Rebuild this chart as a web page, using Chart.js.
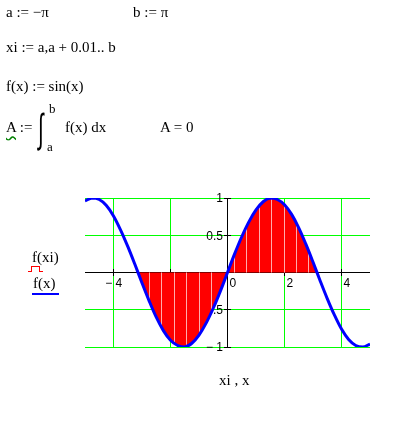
<!DOCTYPE html>
<html>
<head>
<meta charset="utf-8">
<script src="https://cdn.jsdelivr.net/npm/chart.js@4.4.0/dist/chart.umd.min.js"></script>
<style>
body { margin: 0; background: #fff; }
#wrap { position: relative; width: 398px; height: 437px; overflow: hidden; }
#c { position: absolute; left: 0; top: 0; }
.t { position: absolute; font-family: "Liberation Serif", "Times New Roman", serif; font-size: 15px; line-height: 15px; white-space: pre; color: #000; }
.int { position: absolute; font-family: "DejaVu Sans", sans-serif; font-size: 40px; line-height: 40px; transform: scaleX(0.5); transform-origin: left top; font-weight: 200; }
</style>
</head>
<body>
<div id="wrap">
  <canvas id="c" width="398" height="437"></canvas>

  <div class="t" style="left:6px; top:5px">a := −π</div>
  <div class="t" style="left:133px; top:5px">b := π</div>
  <div class="t" style="left:6px; top:40px">xi := a,a + 0.01.. b</div>
  <div class="t" style="left:6px; top:79px">f(x) := sin(x)</div>

  <div class="t" style="left:6px; top:120px"><span style="text-decoration: underline wavy #008000; text-underline-offset: 3px;">A</span> :=</div>
  <div class="int" style="left:38px; top:108px">∫</div>
  <div class="t" style="left:49px; top:101px; font-size:13px">b</div>
  <div class="t" style="left:47px; top:139px; font-size:13px">a</div>
  <div class="t" style="left:65px; top:120px">f(x) dx</div>
  <div class="t" style="left:160px; top:120px">A = 0</div>

  <!-- legend -->
  <div class="t" style="left:32px; top:250px">f(xi)</div>
  <div style="position:absolute; left:28px; top:271px; width:15px; height:1px; background:#ff0000"></div>
  <div style="position:absolute; left:31px; top:266px; width:7px; height:5px; border:1px solid #ff0000; border-bottom:none; background:#fff"></div>
  <div class="t" style="left:33px; top:276px">f(x)</div>
  <div style="position:absolute; left:32px; top:293px; width:27px; height:2px; background:#0000ff"></div>

  <div class="t" style="left:219px; top:373px">xi , x</div>
</div>

<script>
// blue trace f(x)
const curveX = [-5, -4.75, -4.5, -4.25, -4, -3.75, -3.5, -3.25, -3, -2.75, -2.5, -2.25, -2, -1.75, -1.5, -1.25, -1, -0.75, -0.5, -0.25,
                0, 0.25, 0.5, 0.75, 1, 1.25, 1.5, 1.75, 2, 2.25, 2.5, 2.75, 3, 3.25, 3.5, 3.75, 4, 4.25, 4.5, 4.75, 5];
const curveY = [0.96, 1.0, 0.98, 0.9, 0.76, 0.57, 0.35, 0.11, -0.14, -0.38, -0.6, -0.78, -0.91, -0.98, -1.0, -0.95, -0.84, -0.68, -0.48, -0.25,
                0, 0.25, 0.48, 0.68, 0.84, 0.95, 1.0, 0.98, 0.91, 0.78, 0.6, 0.38, 0.14, -0.11, -0.35, -0.57, -0.76, -0.9, -0.98, -1.0, -0.96];

// red bar trace f(xi), xi from -pi to pi
const areaX = [-3.14, -3, -2.75, -2.5, -2.25, -2, -1.75, -1.5, -1.25, -1, -0.75, -0.5, -0.25,
               0, 0.25, 0.5, 0.75, 1, 1.25, 1.5, 1.75, 2, 2.25, 2.5, 2.75, 3, 3.14];
const areaY = [0, -0.14, -0.38, -0.6, -0.78, -0.91, -0.98, -1.0, -0.95, -0.84, -0.68, -0.48, -0.25,
               0, 0.25, 0.48, 0.68, 0.84, 0.95, 1.0, 0.98, 0.91, 0.78, 0.6, 0.38, 0.14, 0];

// light lines that show through the red bars
const stripeX = [-2.74, -2.3, -1.87, -1.43, -1.0, -0.57, 0.23, 0.67, 1.12, 1.55, 1.99, 2.41, 2.84];

const gridX = [-4, -2, 0, 2, 4];
const gridY = [-1, -0.5, 0, 0.5, 1];
const xLabels = ['− 4', '− 2', '0', '2', '4'];
const yLabels = ['− 1', '− 0.5', '', '0.5', '1'];

const GREEN = '#00ff00';

// pixel-snapped 1px position
const snap = p => Math.round(p - 0.5);

// grid, black axes, ticks + labels (under the traces, like Mathcad) and stripes in the red area
const mcadPlot = {
  id: 'mcadPlot',
  beforeDatasetsDraw(chart) {
    const { ctx, chartArea: a, scales: { x, y } } = chart;
    const x0 = snap(x.getPixelForValue(0));
    const y0 = snap(y.getPixelForValue(0));
    ctx.save();

    ctx.fillStyle = GREEN;
    gridX.forEach(v => ctx.fillRect(snap(x.getPixelForValue(v)), a.top, 1, a.bottom - a.top + 1));
    gridY.forEach(v => ctx.fillRect(a.left, snap(y.getPixelForValue(v)), a.right - a.left, 1));

    ctx.fillStyle = '#000';
    ctx.fillRect(a.left, y0, a.right - a.left, 1);
    ctx.fillRect(x0, a.top, 1, a.bottom - a.top + 1);
    gridX.forEach(v => {
      if (v !== 0) ctx.fillRect(snap(x.getPixelForValue(v)), y0 - 3, 1, 7);
    });
    gridY.forEach(v => {
      if (v !== 0) ctx.fillRect(x0 - 3, snap(y.getPixelForValue(v)), 7, 1);
    });

    ctx.font = '12px "Liberation Sans", Arial, sans-serif';
    ctx.textBaseline = 'top';
    ctx.textAlign = 'left';
    gridX.forEach((v, i) => {
      const px = x.getPixelForValue(v);
      let lx = px + 2;
      if (v < 0) lx = px - ctx.measureText('− ').width + 2;
      ctx.fillText(xLabels[i], lx, y0 + 6);
    });
    ctx.textAlign = 'right';
    ctx.textBaseline = 'middle';
    gridY.forEach((v, i) => {
      if (!yLabels[i]) return;
      ctx.fillText(yLabels[i], x0 - 4, y.getPixelForValue(v) + 1);
    });
    ctx.restore();
  },
  afterDatasetDraw(chart, args) {
    if (args.index !== 1) return;
    const { ctx, chartArea, scales: { x, y } } = chart;
    const y0 = y.getPixelForValue(0);
    const pts = args.meta.data;
    ctx.save();
    ctx.beginPath();
    ctx.moveTo(pts[0].x, y0);
    pts.forEach(p => ctx.lineTo(p.x, p.y));
    ctx.lineTo(pts[pts.length - 1].x, y0);
    ctx.closePath();
    ctx.clip();
    ctx.fillStyle = 'rgba(255,190,190,0.9)';
    stripeX.forEach(v => {
      ctx.fillRect(snap(x.getPixelForValue(v)), chartArea.top, 1, chartArea.bottom - chartArea.top);
    });
    ctx.restore();
  }
};

new Chart(document.getElementById('c'), {
  type: 'line',
  data: {
    datasets: [
      {
        label: 'f(x)',
        data: curveX.map((v, i) => ({ x: v, y: curveY[i] })),
        borderColor: '#0000ff',
        borderWidth: 3,
        pointRadius: 0,
        tension: 0.35,
        fill: false
      },
      {
        label: 'f(xi)',
        data: areaX.map((v, i) => ({ x: v, y: areaY[i] })),
        borderWidth: 0,
        borderColor: 'rgba(0,0,0,0)',
        backgroundColor: '#ff0000',
        pointRadius: 0,
        tension: 0.35,
        fill: 'origin'
      }
    ]
  },
  options: {
    responsive: false,
    animation: false,
    events: [],
    layout: { padding: { left: 85, right: 28, top: 198, bottom: 90 } },
    plugins: { legend: { display: false }, tooltip: { enabled: false } },
    scales: {
      x: {
        type: 'linear', min: -5, max: 5,
        ticks: { display: false },
        border: { display: false },
        grid: { drawTicks: false, color: 'rgba(0,0,0,0)' }
      },
      y: {
        type: 'linear', min: -1, max: 1,
        ticks: { display: false },
        border: { display: false },
        grid: { drawTicks: false, color: 'rgba(0,0,0,0)' }
      }
    }
  },
  plugins: [mcadPlot]
});
</script>
</body>
</html>
